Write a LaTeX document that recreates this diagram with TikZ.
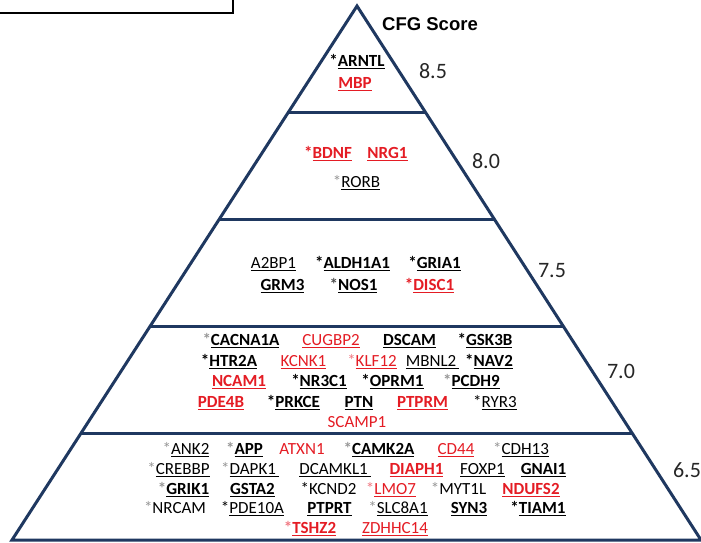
\documentclass[tikz,border=0pt]{standalone}
\usepackage{fontspec}
\setmainfont{Carlito}
\newfontfamily\arialfont{Liberation Sans}
\usetikzlibrary{calc}
\definecolor{navy}{RGB}{31,56,96}
\definecolor{genered}{RGB}{228,28,36}
\definecolor{stargray}{RGB}{150,150,150}
\definecolor{pinkstar}{RGB}{240,120,130}
\newcommand\gul[1]{\setbox0\hbox{#1}\rlap{\rule[-3pt]{\wd0}{1.5pt}}\box0}
\newcommand\gs[1]{\textcolor{#1}{*}}
\begin{document}
\begin{tikzpicture}[x=1pt,y=-1pt,
  gr/.style={anchor=base, inner sep=0pt, font=\fontsize{17}{20}\selectfont},
  gb/.style={anchor=base, inner sep=0pt, font=\fontsize{17}{20}\selectfont\bfseries},
  rd/.style={text=genered},
  score/.style={font=\fontsize{22}{26}\selectfont, text=black!85, inner sep=0pt},
  lvl/.style={draw=navy, line width=3pt}]
\useasboundingbox (0,0) rectangle (701,542);
\clip (0,0) rectangle (701,542);
% legend box (cut off at top)
\draw[line width=2pt] (-10,-20) rectangle (233,13);
% pyramid
\coordinate (apex) at (357,6);
\coordinate (bl) at (12,540);
\coordinate (br) at (701,540);
\draw[lvl, line join=miter] (bl) -- (apex) -- (br) -- cycle;
\foreach \t in {0.2,0.4,0.6,0.8}
  \draw[lvl] ($(apex)!\t!(bl)$) -- ($(apex)!\t!(br)$);
% title and scores
\node[inner sep=0pt, font=\arialfont\bfseries\fontsize{18.5}{22}\selectfont] (cfg) at (430,24) {CFG Score};
\node[score] (s85) at (433,71) {8.5};
\node[score] (s80) at (486,161) {8.0};
\node[score] (s75) at (552,271) {7.5};
\node[score] (s70) at (621,371) {7.0};
\node[score] (s65) at (687,470) {6.5};
% tier 1
\node[gb] (arntl) at (357,66) {\gs{black}\gul{ARNTL}};
\node[gb,rd] (mbp) at (355,88) {\gul{MBP}};
% tier 2
\node[gb,rd] (bdnf) at (328,158) {*\gul{BDNF}};
\node[gb,rd] (nrg1) at (387.5,158) {\gul{NRG1}};
\node[gr] (rorb) at (356.5,187) {\gs{stargray}\gul{RORB}};
% tier 3
\node[gr] (a2bp1) at (273.5,268) {\gul{A2BP1}};
\node[gb] (aldh1a1) at (352.5,268) {\gs{black}\gul{ALDH1A1}};
\node[gb] (gria1) at (434.5,268) {\gs{black}\gul{GRIA1}};
\node[gb] (grm3) at (282.5,290) {\gul{GRM3}};
\node[gb] (nos1) at (353.5,290) {\gs{black!70}\gul{NOS1}};
\node[gb,rd] (disc1) at (429.5,290) {*\gul{DISC1}};
% tier 4
\node[gb] (cacna1a) at (241,345) {\gs{stargray}\gul{CACNA1A}};
\node[gr,rd] (cugbp2) at (331,345) {\gul{CUGBP2}};
\node[gb] (dscam) at (409.5,345) {\gul{DSCAM}};
\node[gb] (gsk3b) at (485,345) {\gs{black}\gul{GSK3B}};
\node[gb] (htr2a) at (229,366) {\gs{black}\gul{HTR2A}};
\node[gr,rd] (kcnk1) at (303.5,366) {\gul{KCNK1}};
\node[gr,rd] (klf12) at (372,366) {\gs{pinkstar}\gul{KLF12}};
\node[gr] (mbnl2) at (432.5,366) {\gul{MBNL2\,}};
\node[gb] (nav2) at (489,366) {\gs{black}\gul{NAV2}};
\node[gb,rd] (ncam1) at (239,386) {\gul{NCAM1}};
\node[gb] (nr3c1) at (319,386) {\gs{black}\gul{NR3C1}};
\node[gb] (oprm1) at (392.5,386) {\gs{black}\gul{OPRM1}};
\node[gb] (pcdh9) at (471.5,386) {\gs{stargray}\gul{PCDH9}};
\node[gb,rd] (pde4b) at (221,407) {\gul{PDE4B}};
\node[gb] (prkce) at (293.5,407) {\gs{black}\gul{PRKCE}};
\node[gb] (ptn) at (359,407) {\gul{PTN}};
\node[gb,rd] (ptprm) at (422.5,407) {\gul{PTPRM}};
\node[gr] (ryr3) at (495,407) {\gs{black}\gul{RYR3}};
\node[gr,rd] (scamp1) at (357,427) {SCAMP1};
% tier 5
\node[gr] (ank2) at (186,454) {\gs{stargray}\gul{ANK2}};
\node[gb] (app) at (244.5,454) {\gs{stargray}\gul{APP}};
\node[gr,rd] (atxn1) at (302,454) {ATXN1};
\node[gb] (camk2a) at (379,454) {\gs{stargray}\gul{CAMK2A}};
\node[gr,rd] (cd44) at (456,454) {\gul{CD44}};
\node[gr] (cdh13) at (521,454) {\gs{stargray}\gul{CDH13}};
\node[gr] (crebbp) at (178.5,474) {\gs{stargray}\gul{CREBBP}};
\node[gr] (dapk1) at (250,474) {\gs{stargray}\gul{DAPK1\,}};
\node[gr] (dcamkl1) at (335,474) {\gul{DCAMKL1\,}};
\node[gb,rd] (diaph1) at (416.5,474) {\gul{DIAPH1}};
\node[gr] (foxp1) at (482.5,474) {\gul{FOXP1}};
\node[gb] (gnai1) at (543.5,474) {\gul{GNAI1}};
\node[gb] (grik1) at (183.5,494) {\gs{stargray}\gul{GRIK1}};
\node[gb] (gsta2) at (252.5,494) {\gul{GSTA2}};
\node[gr] (kcnd2) at (328.5,494) {\gs{black}KCND2};
\node[gr,rd] (lmo7) at (391,494) {\gs{pinkstar}\gul{LMO7}};
\node[gr] (myt1l) at (458.5,494) {\gs{stargray}MYT1L};
\node[gb,rd] (ndufs2) at (531,494) {\gul{NDUFS2}};
\node[gr] (nrcam) at (175,513) {\gs{stargray}NRCAM};
\node[gr] (pde10a) at (252.5,513) {\gs{black}\gul{PDE10A}};
\node[gb] (ptprt) at (329.5,513) {\gul{PTPRT}};
\node[gr] (slc8a1) at (398,513) {\gs{stargray}\gul{SLC8A1}};
\node[gb] (syn3) at (469,513) {\gul{SYN3}};
\node[gb] (tiam1) at (538,513) {\gs{black}\gul{TIAM1}};
\node[gb,rd] (tshz2) at (310,533) {\gs{pinkstar}\gul{TSHZ2}};
\node[gr,rd] (zdhhc14) at (395,533) {\gul{ZDHHC14}};
\end{tikzpicture}
\end{document}
